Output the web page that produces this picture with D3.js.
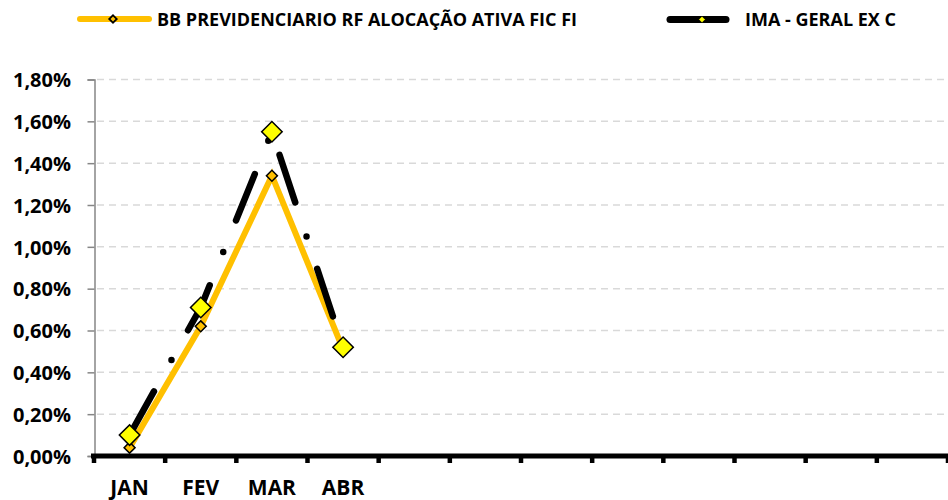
<!DOCTYPE html>
<html>
<head>
<meta charset="utf-8">
<script src="https://cdn.jsdelivr.net/npm/d3@7"></script>
<style>
  body { margin: 0; background: #fff; }
  svg { display: block; font-family: "Open Sans", sans-serif; font-weight: bold; }
</style>
</head>
<body>
<svg id="chart" width="948" height="500"></svg>
<script>
// data
const months = ["JAN", "FEV", "MAR", "ABR", "", "", "", "", "", "", "", ""]
const bbFund = [0.0004, 0.0062, 0.0134, 0.0051]
const imaGeral = [0.0010, 0.0071, 0.0155, 0.0052]
const yTicks = [0, 0.002, 0.004, 0.006, 0.008, 0.010, 0.012, 0.014, 0.016, 0.018]
const seriesNames = ["BB PREVIDENCIARIO RF ALOCAÇÃO ATIVA FIC FI", "IMA - GERAL EX C"]

const svg = d3.select("#chart")
const plotLeft = 94, plotRight = 948, plotTop = 79.5, plotBottom = 456

const x = d3.scaleBand().domain(d3.range(months.length)).range([plotLeft, plotRight])
const y = d3.scaleLinear().domain([0, 0.018]).range([plotBottom, plotTop])
const br = d3.formatLocale({ decimal: ",", thousands: ".", grouping: [3], currency: ["R$", ""] })
const pct = br.format(".2%")

// gridlines
svg.append("g")
  .selectAll("line")
  .data(yTicks.slice(1))
  .join("line")
  .attr("x1", plotLeft + 3).attr("x2", plotRight)
  .attr("y1", d => y(d)).attr("y2", d => y(d))
  .attr("stroke", "#d9d9d9")
  .attr("stroke-width", 1.5)
  .attr("stroke-dasharray", "7,5")

// y axis
const yAxis = svg.append("g")
  .attr("transform", `translate(${plotLeft + 0.5},0)`)
  .call(d3.axisLeft(y).tickValues(yTicks).tickSize(7).tickFormat(pct))
yAxis.select(".domain").attr("stroke", "#868686").attr("stroke-width", 1.5)
yAxis.selectAll(".tick line").attr("stroke", "#868686").attr("stroke-width", 1.5)
yAxis.selectAll(".tick text")
  .attr("x", -23.5)
  .attr("dy", "0.36em")
  .style("font-size", "20px")
  .style("font-family", "'Open Sans', sans-serif")
  .style("font-weight", "bold")
  .attr("fill", "#000")

// x axis
const xAxis = svg.append("g")
xAxis.append("line")
  .attr("x1", plotLeft - 3).attr("x2", plotRight)
  .attr("y1", plotBottom).attr("y2", plotBottom)
  .attr("stroke", "#000").attr("stroke-width", 5)
xAxis.selectAll(".xtick")
  .data(d3.range(months.length + 1))
  .join("line")
  .attr("class", "xtick")
  .attr("x1", i => plotLeft + i * x.step()).attr("x2", i => plotLeft + i * x.step())
  .attr("y1", plotBottom).attr("y2", plotBottom + 7)
  .attr("stroke", "#000").attr("stroke-width", 4.5)
xAxis.selectAll(".xlabel")
  .data(months)
  .join("text")
  .attr("class", "xlabel")
  .attr("x", (d, i) => x(i) + x.bandwidth() / 2)
  .attr("y", 495)
  .attr("text-anchor", "middle")
  .style("font-size", "21px")
  .text(d => d)

// lines
const line = d3.line()
  .x((d, i) => x(i) + x.bandwidth() / 2)
  .y(d => y(d))

svg.append("path")
  .datum(bbFund)
  .attr("d", line)
  .attr("fill", "none")
  .attr("stroke", "#FFC000")
  .attr("stroke-width", 6)
  .attr("stroke-linecap", "round")

svg.append("path")
  .datum(imaGeral)
  .attr("d", line)
  .attr("fill", "none")
  .attr("stroke", "#000")
  .attr("stroke-width", 6.5)
  .attr("stroke-linecap", "round")
  .attr("stroke-dasharray", "50,36,0,34")

// markers
const diamond = (area) => d3.symbol(d3.symbolSquare, area)()

svg.append("g")
  .selectAll("path")
  .data(bbFund)
  .join("path")
  .attr("d", diamond(60))
  .attr("transform", (d, i) => `translate(${x(i) + x.bandwidth() / 2},${y(d)}) rotate(45)`)
  .attr("fill", "#FFC000")
  .attr("stroke", "#000")
  .attr("stroke-width", 1.5)

svg.append("g")
  .selectAll("path")
  .data(imaGeral)
  .join("path")
  .attr("d", diamond(210))
  .attr("transform", (d, i) => `translate(${x(i) + x.bandwidth() / 2},${y(d)}) rotate(45)`)
  .attr("fill", "#FFFF00")
  .attr("stroke", "#000")
  .attr("stroke-width", 1.5)

// legend
const legend = svg.append("g")
const lg1 = legend.append("g")
lg1.append("line")
  .attr("x1", 80).attr("x2", 149).attr("y1", 19).attr("y2", 19)
  .attr("stroke", "#FFC000").attr("stroke-width", 6).attr("stroke-linecap", "round")
lg1.append("path")
  .attr("d", diamond(28))
  .attr("transform", "translate(113,19) rotate(45)")
  .attr("fill", "#FFC000").attr("stroke", "#000").attr("stroke-width", 1.8)
lg1.append("text")
  .attr("x", 157).attr("y", 26)
  .style("font-size", "18px")
  .text(seriesNames[0])

const lg2 = legend.append("g")
lg2.append("line")
  .attr("x1", 670).attr("x2", 726).attr("y1", 19.5).attr("y2", 19.5)
  .attr("stroke", "#000").attr("stroke-width", 7).attr("stroke-linecap", "round")
lg2.append("path")
  .attr("d", diamond(22))
  .attr("transform", "translate(702,19.5) rotate(45)")
  .attr("fill", "#FFFF00").attr("stroke", "#000").attr("stroke-width", 0.8)
lg2.append("text")
  .attr("x", 745).attr("y", 26)
  .style("font-size", "18px")
  .text(seriesNames[1])
</script>
</body>
</html>
